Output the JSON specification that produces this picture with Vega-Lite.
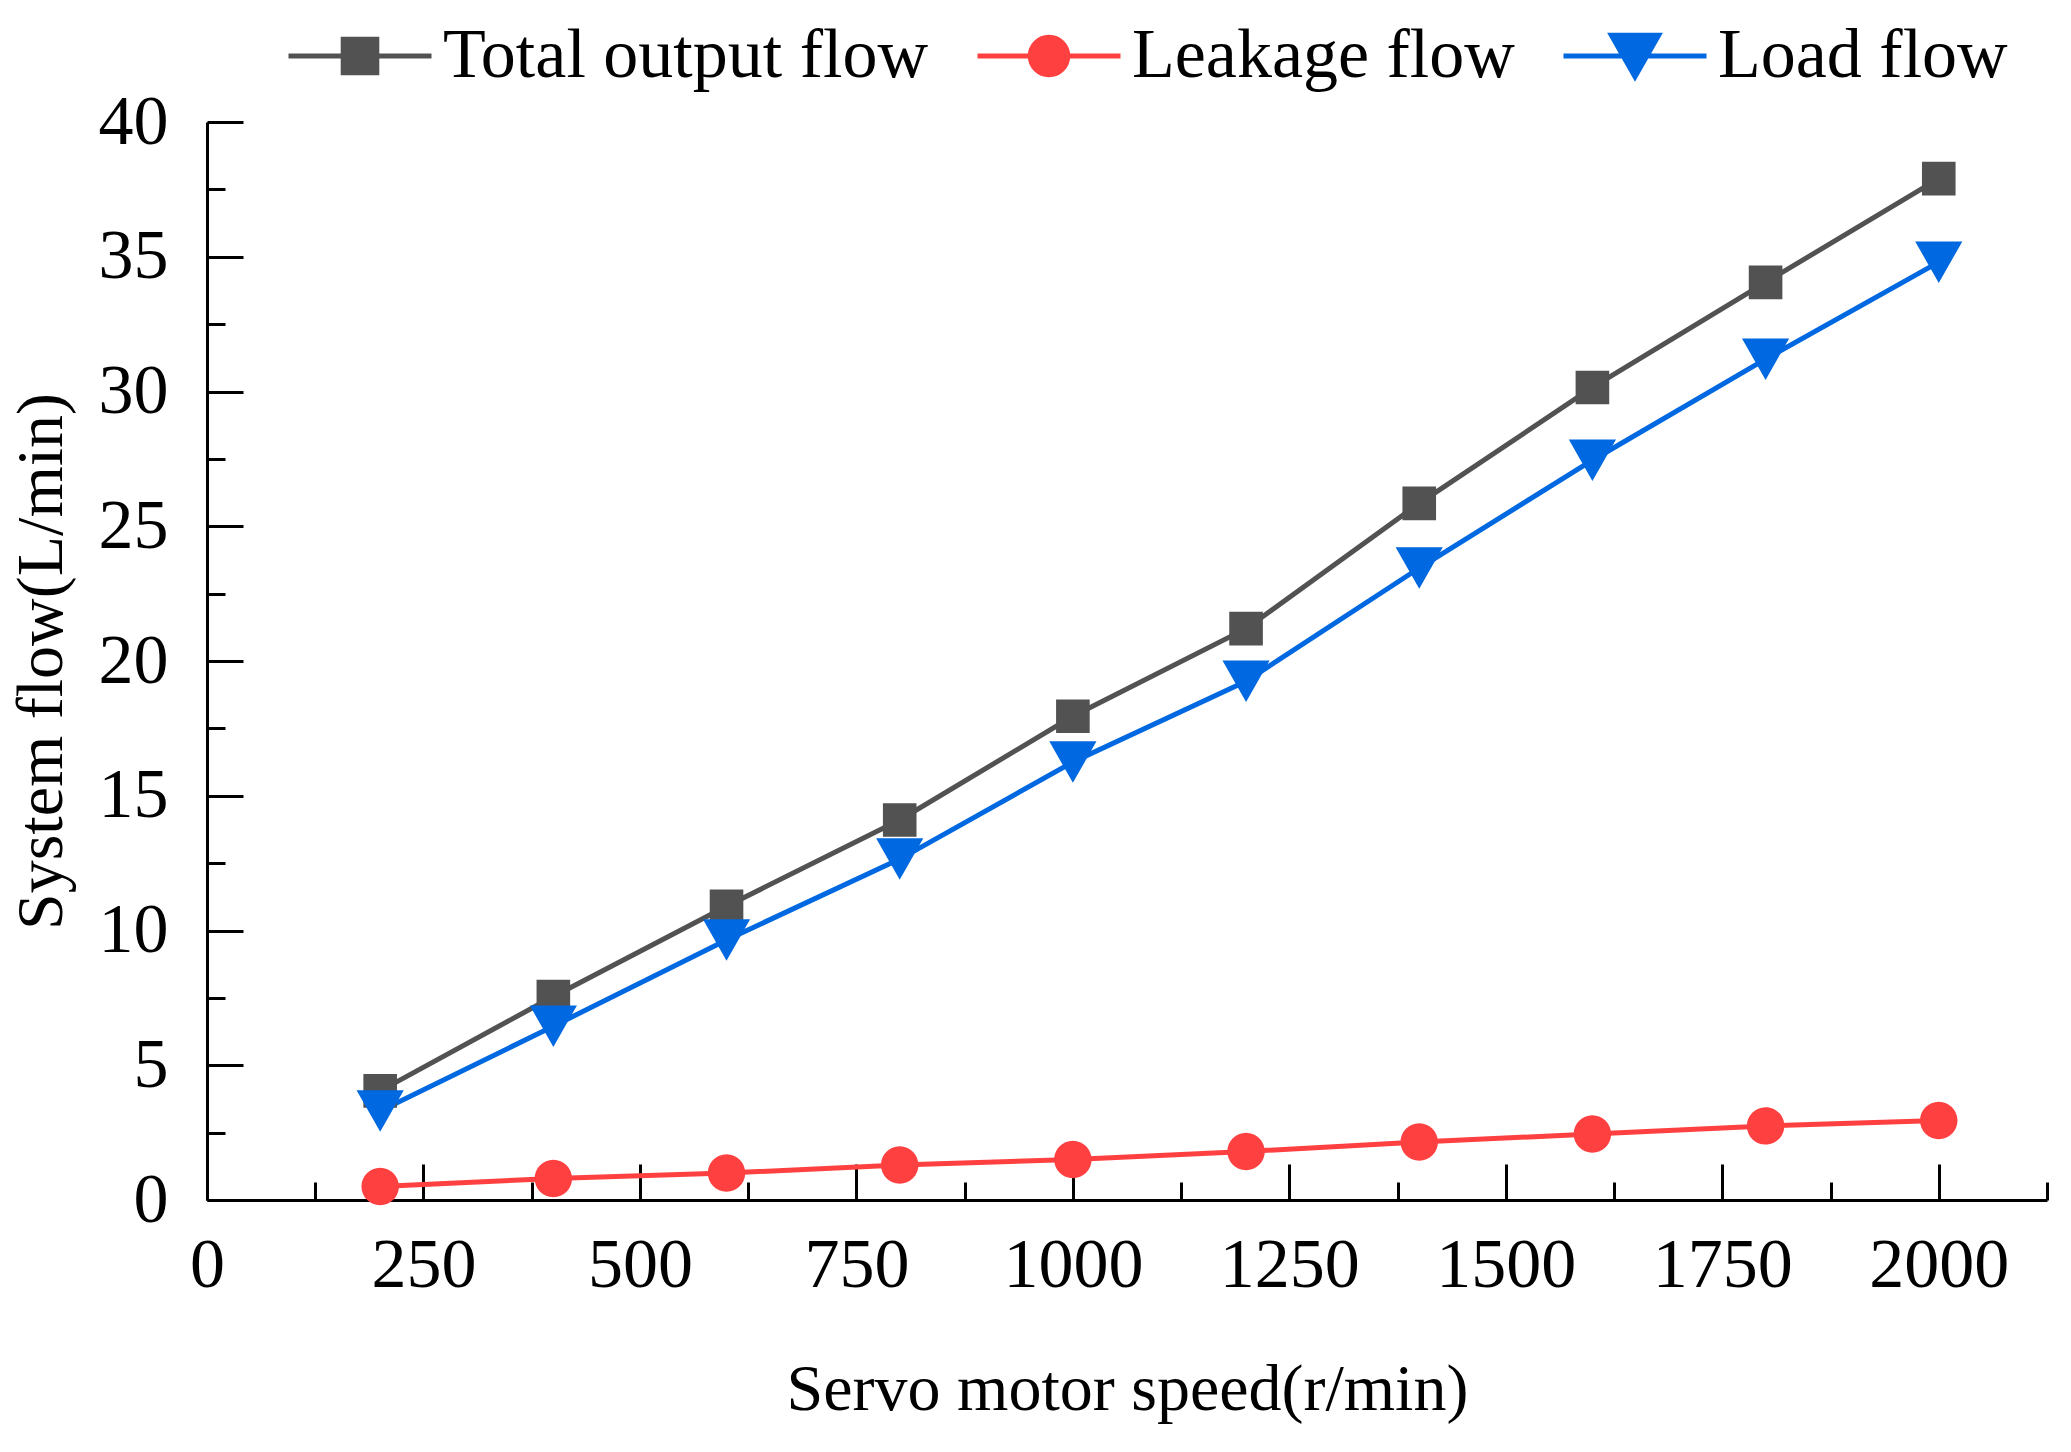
{
  "$schema": "https://vega.github.io/schema/vega-lite/v6.json",
  "description": "System flow vs servo motor speed",
  "autosize": {"type": "none"},
  "width": 1840,
  "height": 1078,
  "padding": {"left": 207, "top": 122, "right": 24, "bottom": 252},
  "background": "white",
  "config": {
    "view": {"stroke": null},
    "font": "Liberation Serif",
    "axis": {
      "domainColor": "black",
      "domainWidth": 3,
      "tickColor": "black",
      "tickWidth": 3,
      "grid": false,
      "labelFont": "Liberation Serif",
      "labelFontSize": 70,
      "labelColor": "black",
      "titleFont": "Liberation Serif",
      "titleFontWeight": "normal",
      "titleColor": "black"
    }
  },
  "data": {
    "values": [
      {"speed": 200, "series": "Total output flow", "flow": 4.05},
      {"speed": 400, "series": "Total output flow", "flow": 7.55},
      {"speed": 600, "series": "Total output flow", "flow": 10.9},
      {"speed": 800, "series": "Total output flow", "flow": 14.1},
      {"speed": 1000, "series": "Total output flow", "flow": 17.95},
      {"speed": 1200, "series": "Total output flow", "flow": 21.2},
      {"speed": 1400, "series": "Total output flow", "flow": 25.85},
      {"speed": 1600, "series": "Total output flow", "flow": 30.15},
      {"speed": 1800, "series": "Total output flow", "flow": 34.05},
      {"speed": 2000, "series": "Total output flow", "flow": 37.9},
      {"speed": 200, "series": "Leakage flow", "flow": 0.5},
      {"speed": 400, "series": "Leakage flow", "flow": 0.8},
      {"speed": 600, "series": "Leakage flow", "flow": 1.0},
      {"speed": 800, "series": "Leakage flow", "flow": 1.3},
      {"speed": 1000, "series": "Leakage flow", "flow": 1.5},
      {"speed": 1200, "series": "Leakage flow", "flow": 1.8},
      {"speed": 1400, "series": "Leakage flow", "flow": 2.15},
      {"speed": 1600, "series": "Leakage flow", "flow": 2.45},
      {"speed": 1800, "series": "Leakage flow", "flow": 2.75},
      {"speed": 2000, "series": "Leakage flow", "flow": 2.95},
      {"speed": 200, "series": "Load flow", "flow": 3.3},
      {"speed": 400, "series": "Load flow", "flow": 6.45},
      {"speed": 600, "series": "Load flow", "flow": 9.65},
      {"speed": 800, "series": "Load flow", "flow": 12.65},
      {"speed": 1000, "series": "Load flow", "flow": 16.25},
      {"speed": 1200, "series": "Load flow", "flow": 19.25},
      {"speed": 1400, "series": "Load flow", "flow": 23.45},
      {"speed": 1600, "series": "Load flow", "flow": 27.45},
      {"speed": 1800, "series": "Load flow", "flow": 31.2},
      {"speed": 2000, "series": "Load flow", "flow": 34.8}
    ]
  },
  "encoding": {
    "color": {
      "field": "series",
      "type": "nominal",
      "scale": {
        "domain": ["Total output flow", "Leakage flow", "Load flow"],
        "range": ["#525252", "#FF4040", "#0068E0"]
      },
      "legend": {
        "title": null,
        "orient": "none",
        "direction": "horizontal",
        "legendX": 79,
        "legendY": -140,
        "padding": 0,
        "symbolSize": 20449,
        "symbolStrokeWidth": 5,
        "labelOffset": 9,
        "columnPadding": 38,
        "labelFont": "Liberation Serif",
        "labelFontSize": 70,
        "labelColor": "black",
        "labelLimit": 0
      }
    }
  },
  "layer": [
    {
      "mark": {"type": "line", "strokeWidth": 5},
      "encoding": {
        "x": {
          "field": "speed",
          "type": "quantitative",
          "scale": {"domain": [0, 2125], "nice": false},
          "axis": {
            "orient": "bottom",
            "values": [0, 250, 500, 750, 1000, 1250, 1500, 1750, 2000],
            "format": "d",
            "tickSize": -36,
            "labelPadding": 67,
            "labelFlush": false,
            "title": "Servo motor speed(r/min)",
            "titleFontSize": 66,
            "titlePadding": 57
          }
        },
        "y": {
          "field": "flow",
          "type": "quantitative",
          "scale": {"domain": [0, 40], "nice": false},
          "axis": {
            "orient": "left",
            "values": [0, 5, 10, 15, 20, 25, 30, 35, 40],
            "format": "d",
            "tickSize": -36,
            "labelPadding": 75,
            "labelFlush": false,
            "title": "System flow(L/min)",
            "titleFontSize": 66,
            "titlePadding": 23
          }
        }
      }
    },
    {
      "mark": {"type": "point", "filled": true, "opacity": 1, "size": 20449, "strokeWidth": 5},
      "encoding": {
        "x": {
          "field": "speed",
          "type": "quantitative",
          "axis": {
            "orient": "bottom",
            "values": [125, 375, 625, 875, 1125, 1375, 1625, 1875, 2125],
            "tickSize": -18,
            "labels": false,
            "domain": false,
            "title": null
          }
        },
        "y": {
          "field": "flow",
          "type": "quantitative",
          "axis": {
            "orient": "left",
            "values": [2.5, 7.5, 12.5, 17.5, 22.5, 27.5, 32.5, 37.5],
            "tickSize": -18,
            "labels": false,
            "domain": false,
            "title": null
          }
        },
        "shape": {
          "field": "series",
          "type": "nominal",
          "scale": {
            "domain": ["Total output flow", "Leakage flow", "Load flow"],
            "range": [
              "M-1,0H1M-0.235,-0.235H0.235V0.235H-0.235Z",
              "M-1,0H1M-0.262,0A0.262,0.262,0,1,0,0.262,0A0.262,0.262,0,1,0,-0.262,0Z",
              "M-1,0H1M-0.33,-0.29H0.33L0,0.29Z"
            ]
          }
        }
      }
    }
  ],
  "resolve": {"axis": {"x": "independent", "y": "independent"}}
}
